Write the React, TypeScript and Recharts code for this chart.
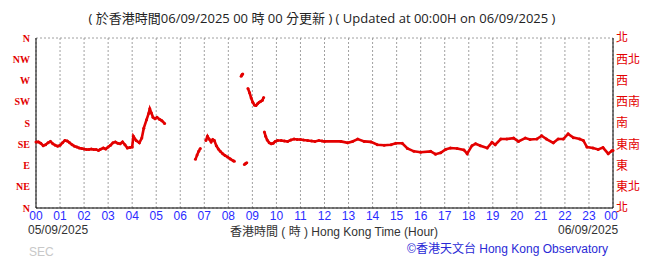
import React from "react";
import { ComposedChart, Line, XAxis, YAxis, CartesianGrid } from "recharts";

// time in minutes after 00:00 on 05/09/2025, wind direction in degrees (null = no data)
const minutes: number[] = [
  0, 6, 12, 18, 24, 30, 36, 42, 48, 54, 60, 66, 72, 78, 84, 90, 96, 102, 108, 114,
  120, 126, 132, 138, 144, 150, 156, 160, 168, 174, 180, 186, 192, 198, 204, 210, 216, 222, 228, 234,
  240, 243, 250, 258, 264, 269, 276, 281, 284, 288, 292, 297, 302, 308, 314, 321, 330,
  398, 402, 406, 410, 414, 424, 428, 432, 437, 441, 445, 450, 455, 460, 466, 472, 478, 485, 492, 495, 500,
  512, 514, 516, 518, 520, 523, 526, 528,
  529, 533, 537, 541, 545, 549, 553, 557, 561, 565, 568, 569,
  570, 573, 577, 582, 587, 592, 597, 603, 612, 620, 628, 636, 644, 652, 660, 668, 678, 688, 696, 706, 714,
  720, 761, 778, 790, 803, 819, 836, 852, 869, 886, 898, 914, 927, 943, 960, 985, 997, 1010, 1022, 1034,
  1051, 1068, 1076, 1088, 1097, 1109, 1126, 1138, 1146, 1160, 1175, 1192, 1204, 1221, 1233, 1250, 1262, 1274, 1291, 1303,
  1316, 1328, 1341, 1357, 1366, 1375, 1390, 1403, 1415, 1428, 1437, 1440,
];
const directions: (number | null)[] = [
  140, 140, 137, 132, 134, 138, 141, 136, 133, 131, 133, 138, 143, 142, 138, 134, 131, 129, 127, 126,
  125, 124, 124, 125, 124, 124, 122, 124, 127, 125, 129, 133, 138, 140, 137, 136, 140, 134, 127, 128,
  129, 152, 143, 138, 148, 169, 187, 200, 210, 201, 192, 189, 192, 188, 185, 179, null,
  103, 112, 120, 126, null, 143, 152, 146, 140, 145, 143, 132, 125, 120, 115, 111, 108, 104, 100, 99, null,
  279, 282, 284, null, 92, 94, 96, null,
  253, 244, 233, 224, 218, 217, 221, 224, 226, 228, 234, null,
  161, 152, 144, 138, 136, 137, 141, 143, 143, 142, 141, 144, 146, 145, 145, 144, 143, 142, 141, 143, 142,
  141, 141, 138, 141, 146, 141, 140, 134, 133, 134, 137, 137, 126, 120, 118, 120, 114, 117, 124, 127,
  126, 123, 115, 132, 136, 132, 127, 139, 134, 146, 146, 148, 141, 148, 145, 146, 153, 146, 138, 146,
  146, 157, 149, 146, 143, 129, 127, 124, 128, 115, 121, 122,
];

const hourTicks: number[] = [0, 60, 120, 180, 240, 300, 360, 420, 480, 540, 600, 660, 720, 780, 840, 900, 960, 1020, 1080, 1140, 1200, 1260, 1320, 1380, 1440];
const hourLabels: string[] = ["00", "01", "02", "03", "04", "05", "06", "07", "08", "09", "10", "11", "12", "13", "14", "15", "16", "17", "18", "19", "20", "21", "22", "23", "00"];
const dirTicks: number[] = [0, 45, 90, 135, 180, 225, 270, 315, 360];
const dirLabelsEn: string[] = ["N", "NE", "E", "SE", "S", "SW", "W", "NW", "N"];
const dirLabelsZh: string[] = ["北", "東北", "東", "東南", "南", "西南", "西", "西北", "北"];

const data = minutes.map((t, i) => ({ t, d: directions[i] }));

const RED = "#e30000";
const BLUE = "#2b2bff";

const text = (style: React.CSSProperties): React.CSSProperties => ({
  position: "absolute",
  whiteSpace: "nowrap",
  fontFamily: "'Liberation Sans', Arial, sans-serif",
  fontSize: 12,
  lineHeight: "14px",
  ...style,
});

const HourTick = (props: any) => {
  const { x, y, payload, index } = props;
  const last = index === hourTicks.length - 1;
  return (
    <text
      x={x + (last ? -2 : 0)}
      y={y + 3}
      dy="0.71em"
      textAnchor="middle"
      fill={BLUE}
      fontSize={12}
      fontFamily="'Liberation Sans', Arial, sans-serif"
    >
      {hourLabels[hourTicks.indexOf(payload.value)]}
    </text>
  );
};

export default function App() {
  return (
    <div style={{ position: "absolute", left: 0, top: 0, width: 655, height: 259, background: "#fff", overflow: "hidden" }}>
      <ComposedChart width={655} height={259} data={data} margin={{ top: 38, right: 0, bottom: 31, left: 0 }}>
        <CartesianGrid stroke="#a0a0a0" strokeDasharray="2 2" />
        <XAxis
          dataKey="t"
          type="number"
          domain={[0, 1440]}
          ticks={hourTicks}
          interval={0}
          height={20}
          tickLine={false}
          tickSize={0}
          tickMargin={0}
          axisLine={{ stroke: "#000", strokeWidth: 1 }}
          tick={<HourTick />}
        />
        <YAxis
          yAxisId="left"
          type="number"
          domain={[0, 360]}
          ticks={dirTicks}
          interval={0}
          width={36}
          tickLine={false}
          tickSize={3}
          tickMargin={3}
          tickFormatter={(v: number) => dirLabelsEn[dirTicks.indexOf(v)]}
          axisLine={{ stroke: "#000", strokeWidth: 1 }}
          tick={{ fill: RED, fontSize: 10, fontWeight: "bold", fontFamily: "'Liberation Serif', serif" }}
        />
        <YAxis
          yAxisId="right"
          orientation="right"
          type="number"
          domain={[0, 360]}
          ticks={dirTicks}
          interval={0}
          width={42}
          tickLine={false}
          tickSize={0}
          tickMargin={3}
          tickFormatter={(v: number) => dirLabelsZh[dirTicks.indexOf(v)]}
          axisLine={{ stroke: "#000", strokeWidth: 1 }}
          tick={{ fill: RED, fontSize: 12, fontFamily: "'Noto Sans CJK TC', sans-serif" }}
        />
        <Line
          yAxisId="right"
          dataKey="d"
          stroke="none"
          dot={false}
          activeDot={false}
          isAnimationActive={false}
          connectNulls={false}
        />
        <Line
          yAxisId="left"
          dataKey="d"
          type="linear"
          stroke={RED}
          strokeWidth={2.6}
          dot={{ r: 1.5, fill: RED, stroke: "none" }}
          activeDot={false}
          isAnimationActive={false}
          connectNulls={false}
        />
      </ComposedChart>
      <div style={text({ left: 0, width: 644, top: 10, textAlign: "center", fontSize: 13, lineHeight: "16px", color: "#222", fontFamily: "'Open Sans', 'Noto Sans CJK TC', sans-serif" })}>
        ( 於香港時間06/09/2025 00 時 00 分更新 ) ( Updated at 00:00H on 06/09/2025 )
      </div>
      <div style={text({ left: 28, top: 223, color: "#333" })}>05/09/2025</div>
      <div style={text({ left: 230, width: 194, top: 225, textAlign: "center", color: "#333", fontFamily: "'Liberation Sans', 'Noto Sans CJK TC', sans-serif" })}>
        香港時間 ( 時 ) Hong Kong Time (Hour)
      </div>
      <div style={text({ left: 558, top: 223, color: "#333" })}>06/09/2025</div>
      <div style={text({ right: 47, top: 242, color: "#2a2ad6", fontFamily: "'Liberation Sans', 'Noto Sans CJK TC', sans-serif" })}>
        ©香港天文台 Hong Kong Observatory
      </div>
      <div style={text({ left: 29, top: 245, color: "#c8c8c8" })}>SEC</div>
    </div>
  );
}
